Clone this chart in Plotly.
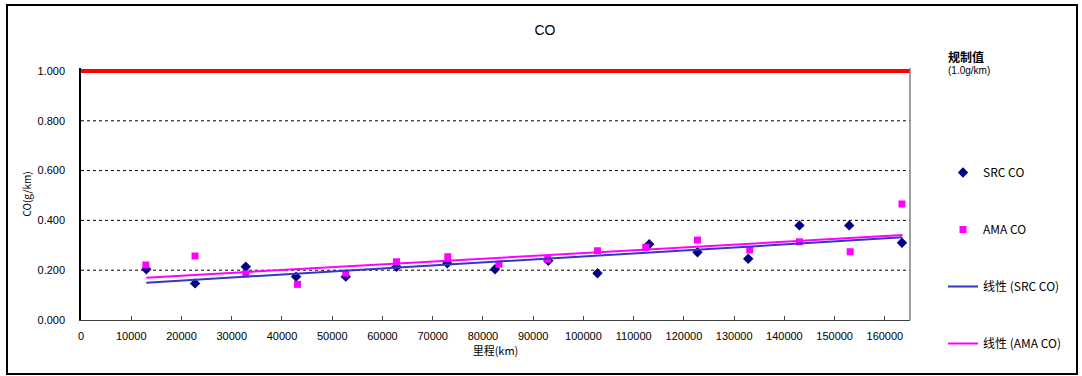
import plotly.graph_objects as go

# ---- data ----
src_x = [13000, 22700, 32800, 42800, 52700, 62800, 72900, 82400, 93000, 102800, 113100, 122700, 132800, 143000, 152900, 163400]
src_y = [0.204, 0.147, 0.214, 0.174, 0.174, 0.214, 0.228, 0.204, 0.238, 0.188, 0.304, 0.272, 0.246, 0.380, 0.380, 0.310]

ama_x = [12900, 22700, 32800, 43100, 52700, 62800, 73000, 83200, 92900, 102800, 112400, 122700, 133100, 143000, 153100, 163400]
ama_y = [0.221, 0.257, 0.185, 0.143, 0.188, 0.234, 0.254, 0.224, 0.244, 0.278, 0.292, 0.321, 0.281, 0.314, 0.274, 0.466]

trend_x = [13000, 163500]
src_trend_y = [0.150, 0.332]
ama_trend_y = [0.170, 0.341]

limit_x = [0, 165000]
limit_y = [1.0, 1.0]

x_ticks = list(range(0, 170000, 10000))
y_ticks = [0.0, 0.2, 0.4, 0.6, 0.8, 1.0]

FONT = "Liberation Sans, Arial, sans-serif"
CJK = "Noto Sans CJK SC, sans-serif"

fig = go.Figure()

# grid lines (dashed) drawn as horizontal shapes at tick values
for v in y_ticks[1:-1]:
    fig.add_hline(y=v, line=dict(color="black", width=1, dash="3px,3px"), layer="below")

fig.add_trace(go.Scatter(x=limit_x, y=limit_y, mode="lines", name="规制值",
                         line=dict(color="#FF0000", width=4), showlegend=False))
fig.add_trace(go.Scatter(x=src_x, y=src_y, mode="markers", name="SRC CO", legendgroup="a",
                         marker=dict(symbol="diamond", size=8, color="#000080")))
fig.add_trace(go.Scatter(x=ama_x, y=ama_y, mode="markers", name="AMA CO", legendgroup="b",
                         marker=dict(symbol="square", size=7, color="#FF00FF")))
fig.add_trace(go.Scatter(x=trend_x, y=src_trend_y, mode="lines", name="线性 (SRC CO)", legendgroup="c",
                         line=dict(color="#3535C8", width=2)))
fig.add_trace(go.Scatter(x=trend_x, y=ama_trend_y, mode="lines", name="线性 (AMA CO)", legendgroup="d",
                         line=dict(color="#FF00FF", width=2)))

L, R, T, B = 81, 172, 68, 56
W, H = 1082, 376
pw, ph = W - L - R, H - T - B

def px_x(p):
    return (p - L) / pw

def px_y(p):
    return (H - B - p) / ph

fig.update_layout(
    width=W, height=H,
    margin=dict(l=L, r=R, t=T, b=B),
    paper_bgcolor="white", plot_bgcolor="white",
    font=dict(family=FONT, size=11, color="black"),
    title=dict(text="CO", x=px_x(545), xanchor="center", xref="paper",
               y=1 - 30 / H, yanchor="middle", font=dict(family=FONT, size=14, color="black")),
    xaxis=dict(range=[0, 165000], tickvals=x_ticks, tickformat="d",
               showgrid=False, zeroline=False, showline=True, linecolor="#404040", linewidth=1,
               ticks="inside", ticklen=4, tickcolor="#404040", ticklabelstandoff=6,
               mirror=False, tickfont=dict(family=FONT, size=11),
               title=dict(text="里程(km)", standoff=6, font=dict(family=CJK, size=11))),
    yaxis=dict(range=[0, 1.012], tickvals=y_ticks, tickformat=".3f",
               showgrid=False, zeroline=False, showline=True, linecolor="black", linewidth=1.5,
               ticks="", ticklabelstandoff=12, tickfont=dict(family=FONT, size=11),
               title=dict(text="CO(g/km)", standoff=4, font=dict(family=CJK, size=10))),
    legend=dict(x=px_x(943), xanchor="left", y=px_y(158), yanchor="top",
                tracegroupgap=38, font=dict(family=CJK, size=12, color="black"),
                bgcolor="rgba(0,0,0,0)"),
    showlegend=True,
)

# right border of plot area
fig.add_shape(type="line", xref="paper", yref="paper", x0=1, x1=1, y0=0, y1=1,
              line=dict(color="#808080", width=1.5))

# outer chart border
fig.add_shape(type="rect", xref="paper", yref="paper",
              x0=px_x(7), x1=px_x(1077), y0=px_y(374), y1=px_y(5),
              line=dict(color="black", width=2), layer="below")

fig.add_annotation(text="<b>规制值</b>", xref="paper", yref="paper", x=px_x(946), y=px_y(57),
                   xanchor="left", yanchor="middle", showarrow=False,
                   font=dict(family=CJK, size=12, color="black"))
fig.add_annotation(text="(1.0g/km)", xref="paper", yref="paper", x=px_x(946), y=px_y(71),
                   xanchor="left", yanchor="middle", showarrow=False,
                   font=dict(family=FONT, size=10, color="black"))

fig.write_html("out.html")
